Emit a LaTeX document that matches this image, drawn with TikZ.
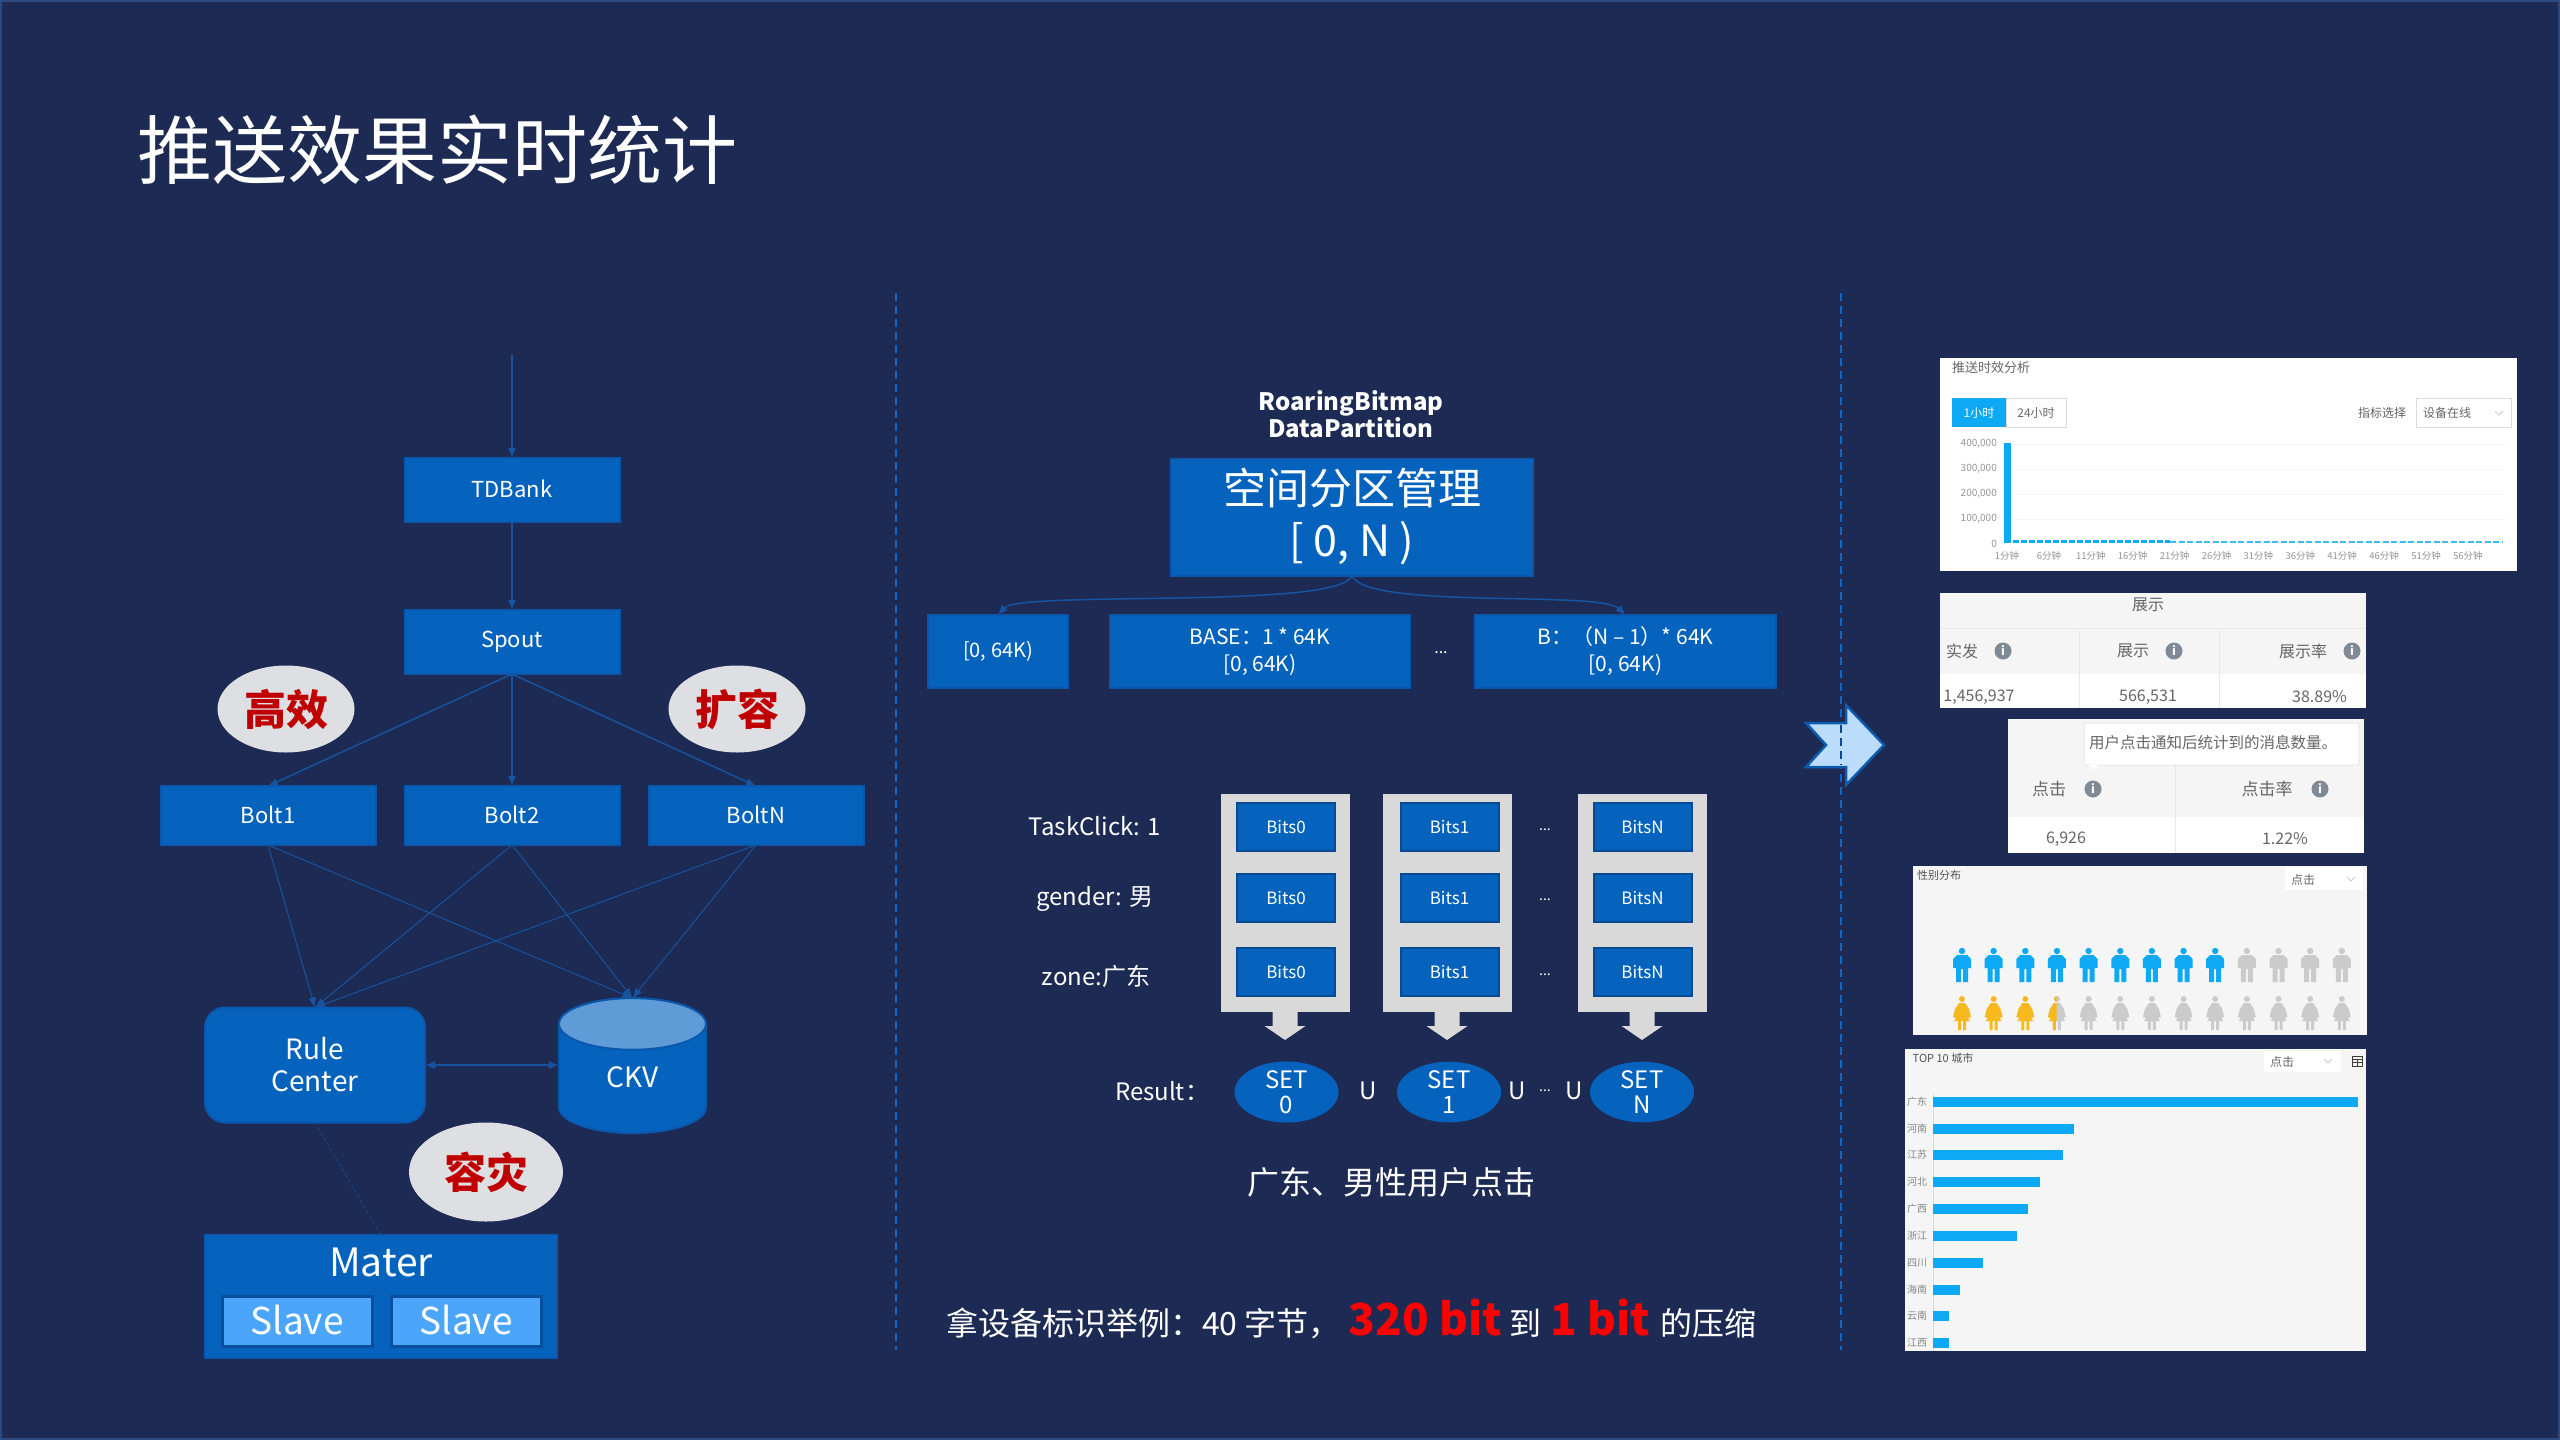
\documentclass[tikz,border=0pt]{standalone}
\usepackage{fontspec}
\setmainfont{Noto Sans CJK SC}
\usetikzlibrary{arrows.meta,positioning,shapes.geometric}
\definecolor{SlideBg}{HTML}{1C2A54}
\definecolor{SlideEdge}{HTML}{2A4A80}
\definecolor{BoxBlue}{HTML}{0563BE}
\definecolor{BoxEdge}{HTML}{0A57AC}
\definecolor{BitsEdge}{HTML}{0A4A92}
\definecolor{WireBlue}{HTML}{17549F}
\definecolor{DashBlue}{HTML}{1267C6}
\definecolor{CkvTop}{HTML}{5F9BD6}
\definecolor{SlaveBlue}{HTML}{4BA5FB}
\definecolor{SlaveEdge}{HTML}{0A4E9E}
\definecolor{BubbleGray}{HTML}{DEDFE2}
\definecolor{BubbleRed}{HTML}{C00000}
\definecolor{ColGray}{HTML}{D9D9D9}
\definecolor{ChevBlue}{HTML}{BBDCFB}
\definecolor{ChevEdge}{HTML}{0D5BAF}
\definecolor{ShotBlue}{HTML}{0DA9F5}
\definecolor{ShotGold}{HTML}{F7B91E}
\definecolor{ShotMute}{HTML}{CBCBCB}
\definecolor{ShotPane}{HTML}{F5F5F5}
\definecolor{ShotText}{HTML}{666666}
\definecolor{ShotIcon}{HTML}{808A94}
\newcommand{\px}[1]{\fontsize{#1}{#1}\selectfont}
\newcommand{\manshape}{(0,-14) circle (3.2) (-9,3) -- (-9,-6) -- (-5,-10) -- (5,-10) -- (9,-6) -- (9,3) -- (6,3) -- (6,17) -- (1,17) -- (1,4) -- (-1,4) -- (-1,17) -- (-6,17) -- (-6,3) -- cycle}
\newcommand{\womanshape}{(0,-14) circle (3) (-3,-10) -- (3,-10) -- (7,-4) -- (9,4) -- (6,5) -- (8,8) -- (4,8) -- (4,17) -- (1,17) -- (1,8) -- (-1,8) -- (-1,17) -- (-4,17) -- (-4,8) -- (-8,8) -- (-6,5) -- (-9,4) -- (-7,-4) -- cycle}
\begin{document}
\begin{tikzpicture}[x=1pt,y=-1pt,node distance=40pt and 27pt,
    box/.style={rectangle,draw=BoxEdge,line width=2pt,fill=BoxBlue,text=white,inner sep=0pt,outer sep=0pt,
                minimum width=215pt,align=center,font=\px{22}},
    bitsbox/.style={box,draw=BitsEdge,minimum width=98pt,minimum height=48pt,font=\px{17}},
    setnode/.style={ellipse,fill=BoxBlue,text=white,inner sep=0pt,minimum width=104pt,minimum height=60pt,
                align=center,font=\fontsize{24}{25}\selectfont},
    bubble/.style={ellipse,fill=BubbleGray,text=BubbleRed,inner sep=0pt,font=\px{42}\bfseries},
    plain/.style={text=white,inner sep=0pt,font=\px{24}},
    shot/.style={text=ShotText,inner sep=0pt,font=\px{12}},
    infoicon/.style={circle,fill=ShotIcon,text=white,inner sep=0pt,minimum size=17pt,font=\px{12}\bfseries},
    arr/.style={-{Latex[length=10pt,width=8pt]},line width=1.5pt,WireBlue},
    colbar/.style={fill=ColGray}]
    \useasboundingbox (0,0) rectangle (2560,1440);
    \fill[SlideBg] (0,0) rectangle (2560,1440);
    \draw[SlideEdge,line width=2pt] (1,1) rectangle (2559,1439);
    \node[plain,font=\px{75},anchor=west] (title) at (137,150) {推送效果实时统计};
    \draw[DashBlue,line width=2pt,dash pattern=on 8pt off 5pt] (896,293) -- (896,1350);
    \draw[DashBlue,line width=2pt,dash pattern=on 8pt off 5pt] (1841,293) -- (1841,1350);

    \coordinate (feed) at (512,355);
    \node[box,minimum height=64pt] (tdbank) at (512,490) {\raisebox{3pt}{TDBank}};
    \node[box,minimum height=64pt,below=88pt of tdbank] (spout) {Spout};
    \node[box,minimum height=59pt,below=112pt of spout] (bolt2) {\raisebox{1.5pt}{Bolt2}};
    \node[box,minimum height=59pt,left=29pt of bolt2] (bolt1) {\raisebox{1.5pt}{Bolt1}};
    \node[box,minimum height=59pt,right=29pt of bolt2] (boltn) {\raisebox{1.5pt}{BoltN}};
    \node[box,rounded corners=20pt,minimum width=220pt,minimum height=115pt,font=\fontsize{28}{32}\selectfont] (rule) at (315,1065) {Rule\\Center};
    \node[cylinder,shape border rotate=90,cylinder uses custom fill,cylinder body fill=BoxBlue,cylinder end fill=CkvTop,
          draw=BoxEdge,line width=2pt,aspect=1,minimum width=147pt,minimum height=135pt,inner sep=0pt,outer sep=0pt,
          text=white,font=\px{28}] (ckv) at (632.5,1079) {\raisebox{4pt}{CKV}};
    \node[box,minimum width=352pt,minimum height=123pt,anchor=north west] (mater) at (205,1235) {};
    \node[plain,font=\px{39}] (matertext) at (381,1262) {Mater};
    \node[box,draw=SlaveEdge,fill=SlaveBlue,line width=3pt,minimum width=150pt,minimum height=50pt,font=\px{37}] (slavea) at (297,1321) {\raisebox{2pt}{Slave}};
    \node[box,draw=SlaveEdge,fill=SlaveBlue,line width=3pt,minimum width=150pt,minimum height=50pt,font=\px{37}] (slaveb) at (466,1321) {\raisebox{2pt}{Slave}};
    \node[bubble,minimum width=137pt,minimum height=87pt] (gaoxiao) at (286,709) {高效};
    \node[bubble,minimum width=137pt,minimum height=87pt] (kuorong) at (737,709) {扩容};
    \node[bubble,minimum width=154pt,minimum height=99pt] (rongzai) at (486,1172) {容灾};
    \draw[arr] (feed) -- (tdbank);
    \draw[arr] (tdbank) -- (spout);
    \draw[arr] (spout.south) -- (bolt1.north);
    \draw[arr] (spout.south) -- (bolt2.north);
    \draw[arr] (spout.south) -- (boltn.north);
    \foreach \bolt in {bolt1,bolt2,boltn} {
      \draw[arr,line width=1pt] (\bolt.south) -- (rule.north);
      \draw[arr,line width=1pt] (\bolt.south) -- (ckv.north);
    }
    \draw[arr,{Latex[length=10pt,width=8pt]}-{Latex[length=10pt,width=8pt]}] (rule) -- (rule -| ckv.west);
    \draw[WireBlue!70!SlideBg,line width=1pt,dashed] (rule.south) -- (mater.north);

    \node[plain,font=\fontsize{24}{27.5}\bfseries\selectfont,align=center] (bitmap) at (1351,414) {RoaringBitmap\\DataPartition};
    \node[box,minimum width=362pt,minimum height=117pt,font=\fontsize{43}{52}\selectfont] (space) at (1352,517) {空间分区管理\\{[} 0, N )};
    \node[box,minimum width=140pt,minimum height=73pt,font=\px{20}] (part0) at (998,651.5) {[0, 64K)};
    \node[box,minimum width=300pt,minimum height=73pt,font=\fontsize{21}{27}\selectfont,right=42pt of part0] (partbase) {BASE：1 * 64K\\{[}0, 64K)};
    \node[box,minimum width=301pt,minimum height=73pt,font=\fontsize{21}{27}\selectfont,right=65pt of partbase] (partn) {B：（N – 1）* 64K\\{[}0, 64K)};
    \node[plain,font=\px{16}] (partdots) at (1441,653) {...};
    \draw[arr] (space.south) .. controls (1340,610) and (1020,590) .. (part0.north);
    \draw[arr] (space.south) .. controls (1365,610) and (1600,590) .. (partn.north);

    \node[plain] (taskclick) at (1095,826) {TaskClick: 1};
    \node[plain] (gender) at (1095,899) {gender: 男};
    \node[plain] (zone) at (1096,976) {zone:广东};
    \foreach \c/\colx/\bitsx/\arrowx/\bits/\setx/\settxt in {a/1285.5/1286/1285/Bits0/1286.5/0,b/1447/1449.5/1447/Bits1/1449/1,c/1642.5/1642.5/1642/BitsN/1642/N} {
      \fill[colbar] (\colx-64.5,794) rectangle (\colx+64.5,1012);
      \fill[colbar,xshift=\arrowx] (-12.5,1011) -- (12.5,1011) -- (12.5,1026) -- (20.5,1026) -- (0,1040) -- (-20.5,1026) -- (-12.5,1026) -- cycle;
      \foreach \r/\rowy in {1/827,2/898,3/972}
        \node[bitsbox] (bits\c\r) at (\bitsx,\rowy) {\bits};
      \node[setnode] (set\c) at (\setx,1092) {SET\\\settxt};
    }
    \foreach \r/\rowy in {1/830,2/900,3/975}
      \node[plain,font=\px{14}] (rowdots\r) at (1545,\rowy) {...};
    \node[plain] (result) at (1162,1091) {Result：};
    \node[plain] (ua) at (1368,1091) {U};
    \node[plain] (ub) at (1517,1091) {U};
    \node[plain,font=\px{14}] (resdots) at (1545,1091) {...};
    \node[plain] (uc) at (1574,1091) {U};
    \node[plain,font=\px{32}] (query) at (1391,1182) {广东、男性用户点击};
    \node[plain,font=\px{32},anchor=base west] (ratio) at (946,1335) {拿设备标识举例：40 字节，\hspace{8pt}{\color{red}\px{44}\bfseries 320 bit} 到\hspace{2pt} {\color{red}\px{44}\bfseries 1 bit} \hspace{3pt}的压缩};

    \fill[ChevBlue,draw=ChevEdge,line width=2.5pt] (1806,723) -- (1846,723) -- (1846,705) -- (1884,745) -- (1846,785) -- (1846,767) -- (1806,767) -- (1826,745) -- cycle;
    \draw[DashBlue!70!black,line width=2pt,dash pattern=on 8pt off 5pt] (1841,725) -- (1841,765);

    % timing chart
    \fill[white] (1940,358) rectangle (2517,571);
    \foreach \gy in {444,469,494,519}
      \draw[ShotPane,line width=1pt] (2012,\gy) -- (2505,\gy);
    \fill[ShotBlue] (1952,398) rectangle (2006,427);
    \draw[ShotMute!70,line width=1pt] (2006,398) rectangle (2066,427);
    \draw[ShotMute!70,line width=1pt] (2416,398) rectangle (2511,427);
    \draw[ShotMute,line width=1pt] (2495,411) -- (2499,415) -- (2503,411);
    \node[shot,font=\px{13},anchor=west] (timetitle) at (1952,368) {推送时效分析};
    \node[shot,text=white] (hourone) at (1979,413) {1小时};
    \node[shot] (hourday) at (2036,413) {24小时};
    \node[shot] (metric) at (2382,413) {指标选择};
    \node[shot] (device) at (2447,413) {设备在线};
    \foreach \lab/\gy in {400{,}000/444,300{,}000/469,200{,}000/494,100{,}000/519,0/544}
      \node[shot,text=ShotText!70,font=\px{10},anchor=east] (ylab\gy) at (1997,\gy) {\lab};
    \fill[ShotBlue] (2003.5,443) rectangle (2011,543);
    \draw[ShotBlue,line width=3.5pt,dash pattern=on 6pt off 2pt] (2013,541.5) -- (2170,541.5);
    \draw[ShotBlue!80,line width=2pt,dash pattern=on 6pt off 2.5pt] (2170,542) -- (2503,542);
    \foreach \m [count=\i from 0] in {1,6,11,16,21,26,31,36,41,46,51,56}
      \node[shot,text=ShotText!70,font=\px{9.5}] (xlab\m) at (2007+41.9*\i,556) {\m{}分钟};

    % display table
    \fill[ShotPane] (1940,593) rectangle (2366,674);
    \fill[white] (1940,674) rectangle (2366,708);
    \draw[ColGray!60,line width=1pt] (1940,628) -- (2366,628);
    \draw[ColGray!60,line width=1pt] (2079,630) -- (2079,708);
    \draw[ColGray!60,line width=1pt] (2219,630) -- (2219,708);
    \node[shot,font=\px{16}] (showhead) at (2148,605) {展示};
    \node[shot,font=\px{16}] (sent) at (1962,651) {实发};
    \node[infoicon] (sentinfo) at (2003,651) {i};
    \node[shot,font=\px{16}] (show) at (2133,651) {展示};
    \node[infoicon] (showinfo) at (2174,651) {i};
    \node[shot,font=\px{16}] (showrate) at (2303,651) {展示率};
    \node[infoicon] (rateinfo) at (2352,651) {i};
    \node[shot,font=\px{16}] (sentval) at (1979,697) {1,456,937};
    \node[shot,font=\px{16}] (showval) at (2148,697) {566,531};
    \node[shot,font=\px{16}] (rateval) at (2319.5,697) {38.89\%};

    % click table
    \fill[ShotPane] (2008,719) rectangle (2364,817);
    \fill[white] (2008,817) rectangle (2364,853);
    \draw[ColGray!60,line width=1pt] (2175,765) -- (2175,853);
    \fill[white,draw=ColGray!60,line width=1pt,rounded corners=2pt] (2084,723) rectangle (2359,765);
    \fill[white] (2088,765) -- (2098,765) -- (2093,770) -- cycle;
    \node[shot,font=\px{15.5}] (tip) at (2213,743) {用户点击通知后统计到的消息数量。};
    \node[shot,font=\px{17}] (click) at (2049,789) {点击};
    \node[infoicon] (clickinfo) at (2093,789) {i};
    \node[shot,font=\px{17}] (clickrate) at (2267,789) {点击率};
    \node[infoicon] (crateinfo) at (2320,789) {i};
    \node[shot,font=\px{16}] (clickval) at (2066,839) {6,926};
    \node[shot,font=\px{16}] (crateval) at (2285,839) {1.22\%};

    % gender panel
    \fill[ShotPane] (1913,866) rectangle (2367,1035);
    \fill[white] (2285,867) rectangle (2363,890);
    \draw[ShotMute,line width=1pt] (2347,877) -- (2351,881) -- (2355,877);
    \node[shot,font=\px{11},text=ShotText!80!black] (gendertitle) at (1939,875) {性别分布};
    \node[shot] (genderpick) at (2303,880) {点击};
    \foreach \i in {0,...,12} {
      \pgfmathsetmacro{\personx}{1962+31.65*\i}
      \pgfmathsetmacro{\mancol}{\i<9 ? "ShotBlue" : "ShotMute"}
      \pgfmathsetmacro{\womancol}{\i<3 ? "ShotGold" : "ShotMute"}
      \fill[\mancol,xshift=\personx,yshift=-965] \manshape;
      \fill[\womancol,xshift=\personx,yshift=-1013] \womanshape;
    }
    \begin{scope}
      \clip (1955,990) rectangle (2056.5,1035);
      \fill[ShotGold,xshift=2056.9,yshift=-1013] \womanshape;
    \end{scope}

    % city panel
    \fill[ShotPane] (1905,1049) rectangle (2366,1351);
    \fill[white] (2264,1051) rectangle (2341,1072);
    \draw[ShotMute,line width=1pt] (2324,1059) -- (2328,1063) -- (2332,1059);
    \node[shot,font=\px{11},text=ShotText!80!black] (citytitle) at (1943,1058) {TOP 10 城市};
    \node[shot] (citypick) at (2282,1062) {点击};
    \draw[ShotText!60!black,line width=1pt] (2352,1056) rectangle (2362,1066) (2352,1059) -- (2362,1059) (2352,1062.5) -- (2362,1062.5) (2357,1059) -- (2357,1066);
    \draw[ColGray,line width=1pt] (1933,1094) -- (1933,1351);
    \foreach \city/\barend/\bary in {广东/2358/1102,河南/2074/1129,江苏/2063/1155,河北/2040/1182,广西/2028/1209,浙江/2017/1236,四川/1983/1263,海南/1960/1290,云南/1949/1316,江西/1949/1343} {
      \fill[ShotBlue] (1933,\bary-4.7) rectangle (\barend,\bary+4.7);
      \node[shot,text=ShotText!80,font=\px{10}] (city\bary) at (1917,\bary) {\city};
    }
\end{tikzpicture}
\end{document}
